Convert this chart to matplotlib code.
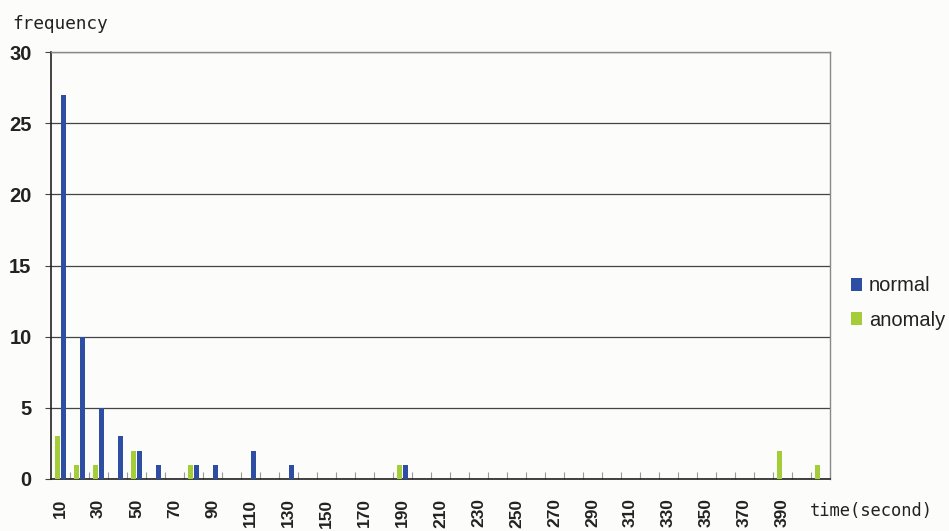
import matplotlib
matplotlib.use("Agg")
import matplotlib.pyplot as plt
import numpy as np

# categories: time bins (seconds)
categories = list(range(10, 420, 10))  # 10 .. 410
normal_values = {10: 27, 20: 10, 30: 5, 40: 3, 50: 2, 60: 1, 80: 1, 90: 1,
                 110: 2, 130: 1, 190: 1}
anomaly_values = {10: 3, 20: 1, 30: 1, 50: 2, 80: 1, 190: 1, 390: 2, 410: 1}
tick_labels = [str(c) if (c - 10) % 20 == 0 and c <= 390 else "" for c in categories]
series_names = ["normal", "anomaly"]

normal = [normal_values.get(c, 0) for c in categories]
anomaly = [anomaly_values.get(c, 0) for c in categories]

BLUE = "#2d4ea3"
GREEN = "#a5cd39"

fig = plt.figure(figsize=(9.49, 5.31), dpi=100)
fig.patch.set_facecolor("#fcfcfb")
ax = fig.add_axes([51 / 949, 1 - 479 / 531, (830 - 51) / 949, (479 - 52) / 531])
ax.set_facecolor("#fcfcfb")

x = np.arange(len(categories))
w = 0.31
bn = ax.bar(x + 0.16, normal, width=w, color=BLUE, label=series_names[0], zorder=3)
ba = ax.bar(x - 0.16, anomaly, width=w, color=GREEN, label=series_names[1], zorder=3)

ax.set_xlim(-0.5, len(categories) - 0.5)
ax.set_ylim(0, 30)
ax.set_yticks(range(0, 31, 5))
ax.yaxis.grid(True, color="#444444", linewidth=0.9, zorder=0)
ax.set_axisbelow(True)

ax.set_xticks(x)
ax.set_xticklabels(tick_labels, rotation=90, fontsize=12.5, fontweight="bold",
                   family="Liberation Sans", color="#222222")
ax.set_xticks(x[:-1] + 0.5, minor=True)
ax.tick_params(axis="x", which="major", length=0, pad=14)
ax.tick_params(axis="x", which="minor", direction="in", length=5, color="#999999", width=0.8)
ax.tick_params(axis="y", which="major", length=4, direction="out", color="#444444",
               labelsize=14.5, pad=10)
for lab in ax.get_yticklabels():
    lab.set_family("Liberation Sans")
    lab.set_fontweight("bold")
    lab.set_color("#222222")

for s in ["left", "bottom"]:
    ax.spines[s].set_color("#222222")
    ax.spines[s].set_linewidth(1.2)
for s in ["top", "right"]:
    ax.spines[s].set_color("#888888")
    ax.spines[s].set_linewidth(1.0)

fig.text(12 / 949, 1 - 24 / 531, "frequency", fontsize=12.8, family="DejaVu Sans Mono",
         va="center", ha="left", color="#222222")
fig.text(810 / 949, 1 - 511 / 531, "time(second)", fontsize=12.3, family="DejaVu Sans Mono",
         va="center", ha="left", color="#222222")

leg = ax.legend(handles=[bn, ba], loc="center left", bbox_to_anchor=(851 / 949, 1 - 303 / 531),
                bbox_transform=fig.transFigure, frameon=False,
                borderpad=0, borderaxespad=0,
                handlelength=0.55, handleheight=0.6, handletextpad=0.35, labelspacing=0.75,
                prop={"family": "Liberation Sans", "size": 14.5})
for t in leg.get_texts():
    t.set_color("#222222")

fig.savefig("out.png", dpi=100, facecolor=fig.get_facecolor())
